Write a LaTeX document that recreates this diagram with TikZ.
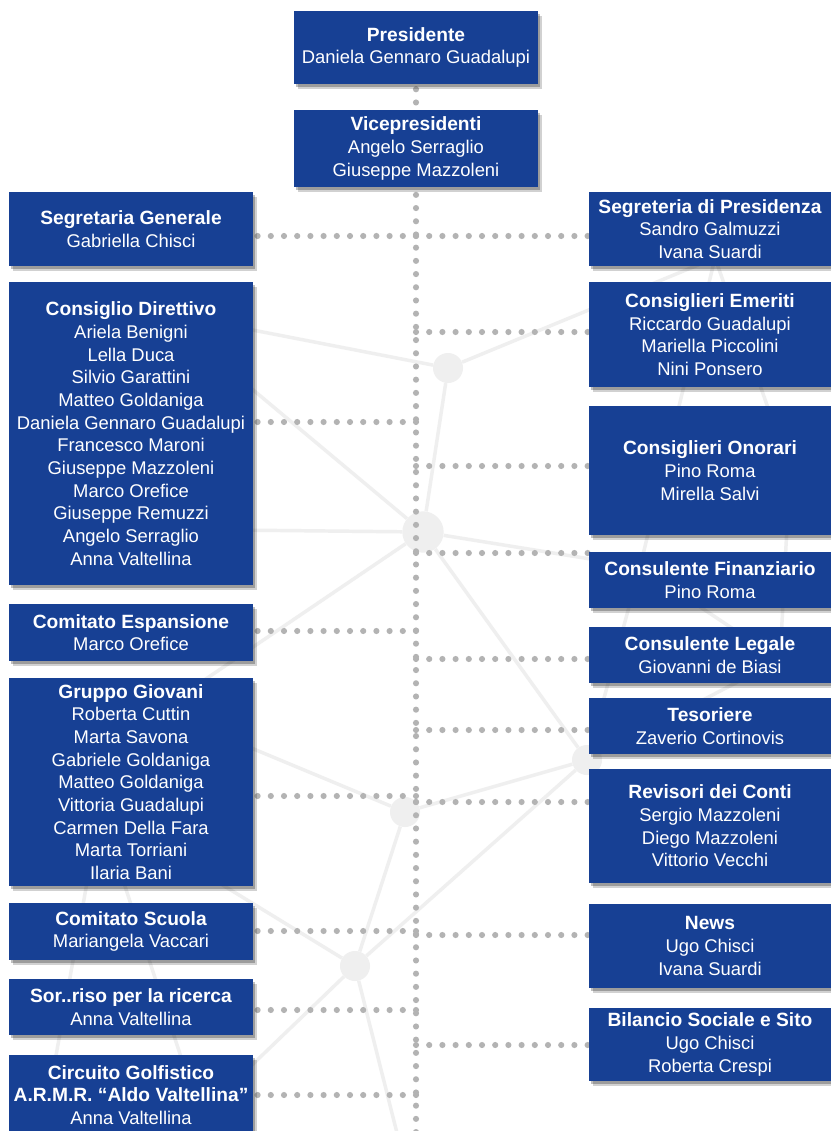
\documentclass[tikz,border=0pt]{standalone}
\usepackage{fontspec}
\setmainfont{Liberation Sans}
\usetikzlibrary{shadows}
\definecolor{boxblue}{HTML}{174094}
\definecolor{dotgray}{HTML}{B3B3B3}
\definecolor{netgray}{HTML}{EFEFEF}
\pgfdeclarelayer{net}
\pgfdeclarelayer{links}
\pgfsetlayers{net,links,main}
\newcommand{\ttl}[1]{{\fontsize{14.4pt}{17pt}\selectfont\bfseries #1}}
\begin{document}
\begin{tikzpicture}[x=0.75pt,y=-0.75pt,
    office/.style={rectangle,fill=boxblue,text=white,align=center,inner sep=0pt,
      minimum width=183pt,font=\fontsize{13.8pt}{17pt}\selectfont,
      drop shadow={shadow xshift=3pt,shadow yshift=-4pt,fill=black,opacity=.18},
      drop shadow={shadow xshift=1.5pt,shadow yshift=-2.5pt,fill=black,opacity=.25}},
    rightoffice/.style={office,minimum width=181.5pt},
    dots/.style={dotgray,line width=4.6pt,line cap=round,dash pattern=on 0pt off 9.9pt},
    net/.style={netgray,line width=2.6pt},
    hub/.style={circle,fill=netgray,inner sep=0pt}]
\useasboundingbox (0,0) rectangle (831,1131);

% top
\node[office,minimum height=54.75pt] (pres) at (416,47.5) {\ttl{Presidente}\\Daniela Gennaro Guadalupi};
\node[office,minimum height=57.75pt] (vice) at (416,148.5) {\ttl{Vicepresidenti}\\Angelo Serraglio\\Giuseppe Mazzoleni};

% left column
\node[office,minimum height=55.5pt] (seggen) at (131,229) {\ttl{Segretaria Generale}\\Gabriella Chisci};
\node[office,minimum height=227.25pt] (direttivo) at (131,433.5) {\ttl{Consiglio Direttivo}\\Ariela Benigni\\Lella Duca\\Silvio Garattini\\Matteo Goldaniga\\Daniela Gennaro Guadalupi\\Francesco Maroni\\Giuseppe Mazzoleni\\Marco Orefice\\Giuseppe Remuzzi\\Angelo Serraglio\\Anna Valtellina};
\node[office,minimum height=42.75pt] (espansione) at (131,632.5) {\ttl{Comitato Espansione}\\Marco Orefice};
\node[office,minimum height=156pt] (giovani) at (131,782) {\ttl{Gruppo Giovani}\\Roberta Cuttin\\Marta Savona\\Gabriele Goldaniga\\Matteo Goldaniga\\Vittoria Guadalupi\\Carmen Della Fara\\Marta Torriani\\Ilaria Bani};
\node[office,minimum height=42.75pt] (scuola) at (131,931.5) {\ttl{Comitato Scuola}\\Mariangela Vaccari};
\node[office,minimum height=42pt] (sorriso) at (131,1007) {\ttl{Sor..riso per la ricerca}\\Anna Valtellina};
\node[office,minimum height=60pt] (golf) at (131,1095) {\ttl{Circuito Golfistico}\\\ttl{A.R.M.R. “Aldo Valtellina”}\\Anna Valtellina};

% right column
\node[rightoffice,minimum height=55.5pt] (segpres) at (710,229) {\ttl{Segreteria di Presidenza}\\Sandro Galmuzzi\\Ivana Suardi};
\node[rightoffice,minimum height=78.75pt] (emeriti) at (710,334.5) {\ttl{Consiglieri Emeriti}\\Riccardo Guadalupi\\Mariella Piccolini\\Nini Ponsero};
\node[rightoffice,minimum height=96.75pt] (onorari) at (710,470.5) {\ttl{Consiglieri Onorari}\\Pino Roma\\Mirella Salvi};
\node[rightoffice,minimum height=42pt] (finanza) at (710,580) {\ttl{Consulente Finanziario}\\Pino Roma};
\node[rightoffice,minimum height=42pt] (legale) at (710,655) {\ttl{Consulente Legale}\\Giovanni de Biasi};
\node[rightoffice,minimum height=42pt] (tesoriere) at (710,726) {\ttl{Tesoriere}\\Zaverio Cortinovis};
\node[rightoffice,minimum height=85.5pt] (revisori) at (710,826) {\ttl{Revisori dei Conti}\\Sergio Mazzoleni\\Diego Mazzoleni\\Vittorio Vecchi};
\node[rightoffice,minimum height=63pt] (news) at (710,946) {\ttl{News}\\Ugo Chisci\\Ivana Suardi};
\node[rightoffice,minimum height=54.75pt] (bilancio) at (710,1044.5) {\ttl{Bilancio Sociale e Sito}\\Ugo Chisci\\Roberta Crespi};

% dotted links
\begin{pgfonlayer}{links}
  \coordinate (spinetop) at ([yshift=-3.75pt]pres.south);
  \coordinate (spinebot) at (416,1140);
  \foreach \name/\y in {j1/236,jl2/422,jl3/631,jl4/796,jl5/931,jl6/1010,jl7/1095,
                        jr2/332,jr3/466,jr4/553,jr5/659,jr6/730,jr7/802,jr8/935,jr9/1045}
    \coordinate (\name) at (416,\y);
  \draw[dots] (spinetop) -- (spinebot);
  \draw[dots] (j1) -- (seggen.east |- j1);
  \draw[dots] (jl2) -- (direttivo.east |- jl2);
  \draw[dots] (jl3) -- (espansione.east |- jl3);
  \draw[dots] (jl4) -- (giovani.east |- jl4);
  \draw[dots] (jl5) -- (scuola.east |- jl5);
  \draw[dots] (jl6) -- (sorriso.east |- jl6);
  \draw[dots] (jl7) -- (golf.east |- jl7);
  \draw[dots] (j1) -- (segpres.west |- j1);
  \draw[dots] (jr2) -- (emeriti.west |- jr2);
  \draw[dots] (jr3) -- (onorari.west |- jr3);
  \draw[dots] (jr4) -- (finanza.west |- jr4);
  \draw[dots] (jr5) -- (legale.west |- jr5);
  \draw[dots] (jr6) -- (tesoriere.west |- jr6);
  \draw[dots] (jr7) -- (revisori.west |- jr7);
  \draw[dots] (jr8) -- (news.west |- jr8);
  \draw[dots] (jr9) -- (bilancio.west |- jr9);
\end{pgfonlayer}

% background network
\begin{pgfonlayer}{net}
  \fill[white] (0,0) rectangle (831,1131);
  \node[hub,minimum size=22.5pt] (h1) at (448,368) {};
  \node[hub,minimum size=31pt] (h2) at (423,532) {};
  \node[hub,minimum size=22.5pt] (h3) at (405,812) {};
  \node[hub,minimum size=22.5pt] (h4) at (587,760) {};
  \node[hub,minimum size=22.5pt] (h5) at (355,966) {};
  \coordinate (na) at (160,312);
  \coordinate (nb) at (40,528);
  \coordinate (nc) at (160,710);
  \coordinate (nd) at (100,810);
  \coordinate (ne) at (200,1115);
  \coordinate (nf) at (400,1145);
  \coordinate (ng) at (40,1145);
  \coordinate (r1) at (715,258);
  \coordinate (r2) at (640,567);
  \coordinate (r3) at (790,470);
  \coordinate (r4) at (780,660);
  \draw[net] (h1) -- (h2) (h1) -- (na) (h1) -- (r1);
  \draw[net] (h2) -- (na) (h2) -- (nb) (h2) -- (nc) (h2) -- (r2) (h2) -- (h4);
  \draw[net] (h3) -- (h4) (h3) -- (h5) (h3) -- (nc);
  \draw[net] (h4) -- (h5) (h4) -- (r4) (h4) -- (r2);
  \draw[net] (h5) -- (nd) (h5) -- (ne) (h5) -- (nf);
  \draw[net] (na) -- (nb) (nc) -- (nd) (nd) -- (ne) (nd) -- (ng);
  \draw[net] (r1) -- (r2) (r1) -- (r3) (r3) -- (r4) (r2) -- (r4);
\end{pgfonlayer}
\end{tikzpicture}
\end{document}
